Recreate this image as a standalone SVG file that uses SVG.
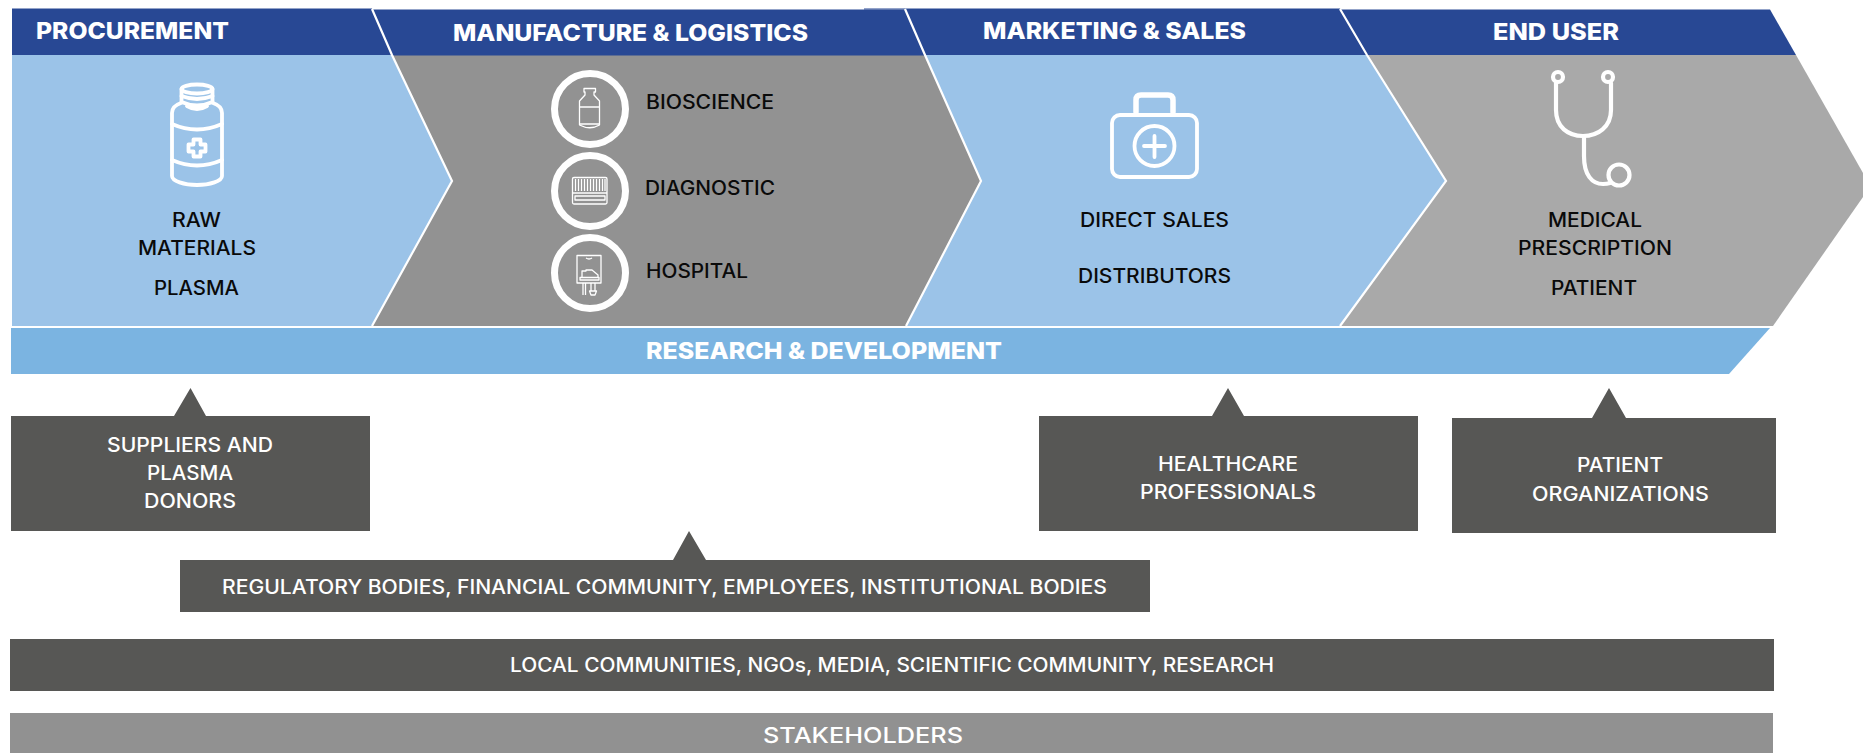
<svg xmlns="http://www.w3.org/2000/svg" width="1863" height="753" viewBox="0 0 1863 753">
<style>
text{font-family:Inter,"Liberation Sans",sans-serif;text-anchor:start}
.h{font-size:22.5px;font-weight:800;fill:#fff}
.b{font-size:19.5px;font-weight:500;fill:#0a0a0a}
.w{font-size:19.5px;font-weight:500;fill:#fff}
.hd{fill:#284894}.lb{fill:#9bc3e8}.g1{fill:#929292}.g2{fill:#a9a9a9}.dk{fill:#575755}
.div{fill:none;stroke:#fff;stroke-width:2.2}
.ic{fill:none;stroke:#fff;stroke-width:3.8;stroke-linecap:round;stroke-linejoin:round}
.ring{fill:none;stroke:#fff;stroke-width:7}
.th{fill:none;stroke:#fff;stroke-width:1.3;stroke-linejoin:round}
</style>
<rect width="1863" height="753" fill="#fff"/>

<g id="end-user">
<polygon class="g2" points="1340,55 1796,55 1863,173 1863,197 1773,326 1340,326"/>
<polygon class="hd" points="1340,9.5 1770,9.5 1796,55 1340,55"/>
<text class="h" x="1493" y="40" textLength="126" lengthAdjust="spacingAndGlyphs">END USER</text>
<g class="ic" style="stroke-width:4.200">
<circle cx="1558" cy="77" r="5"/><circle cx="1608" cy="77" r="5"/>
<path d="M1556 83V110C1556 127 1568 136 1583 136C1598 136 1611 127 1611 110V83"/>
<path d="M1584 137V156C1584 175 1592 184 1603 184C1606 184 1607 184 1610 183"/>
<circle cx="1619" cy="175" r="10.500"/>
</g>
<text class="b" x="1548" y="227" textLength="94" lengthAdjust="spacingAndGlyphs">MEDICAL</text>
<text class="b" x="1518" y="255" textLength="154" lengthAdjust="spacingAndGlyphs">PRESCRIPTION</text>
<text class="b" x="1551" y="295" textLength="86" lengthAdjust="spacingAndGlyphs">PATIENT</text>
</g>

<g id="marketing-sales">
<polygon class="lb" points="905,55 1367,55 1446,181 1340,326 905,326"/>
<polygon class="hd" points="864,8.500 1340,8.500 1367,55 905,55 905,9.500 864,9.500"/>
<polyline class="div" points="1340,9 1367,55 1446,181 1340,326"/>
<g class="ic">
<rect x="1112" y="115" width="85" height="62" rx="8"/>
<path style="stroke-width:5.500" d="M1136 112V100Q1136 95 1141 95H1168Q1173 95 1173 100V112"/>
<circle cx="1154.500" cy="146" r="20"/>
<path d="M1144 146H1165M1154.500 136V157"/>
</g>
<text class="b" x="1080" y="227" textLength="149" lengthAdjust="spacingAndGlyphs">DIRECT SALES</text>
<text class="b" x="1078" y="283" textLength="153" lengthAdjust="spacingAndGlyphs">DISTRIBUTORS</text>
<text class="h" x="983" y="39" textLength="263" lengthAdjust="spacingAndGlyphs">MARKETING &amp; SALES</text>
</g>

<g id="manufacture-logistics">
<polygon class="g1" points="372,55 925,55 981,181 906,326 372,326"/>
<polygon class="hd" points="372,9.500 905,9.500 925,55.500 372,55.500"/>
<polyline class="div" points="905,9 925,55 981,181 906,326"/>
<text class="h" x="453" y="41" textLength="355" lengthAdjust="spacingAndGlyphs">MANUFACTURE &amp; LOGISTICS</text>
<circle class="ring" cx="590" cy="109" r="35.500"/>
<circle class="ring" cx="590" cy="191" r="35.500"/>
<circle class="ring" cx="590" cy="273" r="35.500"/>
<g class="th">
<path d="M584 88.500H595.500V92H594V95L599.500 101V125Q590 130.500 579.500 125V101L585 95V92H584Z"/>
<path d="M579.500 107H599.500M579.500 124H599.500"/>
<rect x="572.500" y="177.500" width="34.500" height="26.500" rx="1.500"/>
<path d="M573 193H607M575 196H605V200H575Z"/>
<path d="M575.500 179V191M578.500 179V191M581.500 179V191M584.500 179V191M587.500 179V191M590.500 179V191M593.500 179V191M596.500 179V191M599.500 179V191M602.500 179V191M605 179V191"/>
<path d="M577 255.500H601V283H577Z"/>
<path d="M586 258Q589 260 592 258"/>
<path d="M580 277.500H599V280H580Z"/>
<path d="M582 277V271H586V270H592L598 275V277"/>
<path d="M583 283V295M585.500 283V295M591 283V291M595 283V291M589.500 291H596.500L595 295H591Z"/>
</g>
<text class="b" x="646" y="109" textLength="128" lengthAdjust="spacingAndGlyphs">BIOSCIENCE</text>
<text class="b" x="645" y="195" textLength="130" lengthAdjust="spacingAndGlyphs">DIAGNOSTIC</text>
<text class="b" x="646" y="278" textLength="102" lengthAdjust="spacingAndGlyphs">HOSPITAL</text>
</g>

<g id="procurement">
<polygon class="lb" points="12,55 392,55 452,181 372,326 12,326"/>
<polygon class="hd" points="12,8.500 372,8.500 392,55 12,55"/>
<polyline class="div" points="372,9 392,55 452,181 372,326"/>
<text class="h" x="36" y="39" textLength="193" lengthAdjust="spacingAndGlyphs">PROCUREMENT</text>
<g class="ic">
<ellipse cx="197" cy="89" rx="15.500" ry="4.500"/>
<path d="M181.500 89V102Q197 109 212.500 102V89"/>
<path d="M181.500 96Q197 102 212.500 96"/>
<path d="M187 106Q197 112 207 106"/>
<path d="M181 103C175 105 172 108 172 113V176C172 181 184 185 197 185C210 185 222 181 222 176V113C222 108 219 105 213 103"/>
<path d="M172 124Q197 135 222 124M172 160Q197 171 222 160"/>
<path d="M193.500 139.500H200.500V144.500H205.500V151.500H200.500V156.500H193.500V151.500H188.500V144.500H193.500Z"/>
</g>
<text class="b" x="172" y="227" textLength="49" lengthAdjust="spacingAndGlyphs">RAW</text>
<text class="b" x="138" y="255" textLength="118" lengthAdjust="spacingAndGlyphs">MATERIALS</text>
<text class="b" x="154" y="295" textLength="85" lengthAdjust="spacingAndGlyphs">PLASMA</text>
</g>

<g id="research-development">
<polygon fill="#7bb4e1" points="11,328 1770,328 1729,374 11,374"/>
<text class="h" x="646" y="359" textLength="356" lengthAdjust="spacingAndGlyphs">RESEARCH &amp; DEVELOPMENT</text>
</g>

<g id="suppliers">
<polygon class="dk" points="11,416 174,416 190.500,388 206,416 370,416 370,531 11,531"/>
<text class="w" x="107" y="452" textLength="166" lengthAdjust="spacingAndGlyphs">SUPPLIERS AND</text>
<text class="w" x="147" y="480" textLength="86" lengthAdjust="spacingAndGlyphs">PLASMA</text>
<text class="w" x="144" y="508" textLength="92" lengthAdjust="spacingAndGlyphs">DONORS</text>
</g>
<g id="healthcare">
<polygon class="dk" points="1039,416 1212,416 1228,388 1244,416 1418,416 1418,531 1039,531"/>
<text class="w" x="1158" y="471" textLength="140" lengthAdjust="spacingAndGlyphs">HEALTHCARE</text>
<text class="w" x="1140" y="499" textLength="176" lengthAdjust="spacingAndGlyphs">PROFESSIONALS</text>
</g>
<g id="patient-organizations">
<polygon class="dk" points="1452,418 1592,418 1609,388 1626,418 1776,418 1776,533 1452,533"/>
<text class="w" x="1577" y="472" textLength="86" lengthAdjust="spacingAndGlyphs">PATIENT</text>
<text class="w" x="1532" y="501" textLength="177" lengthAdjust="spacingAndGlyphs">ORGANIZATIONS</text>
</g>
<g id="regulatory">
<polygon class="dk" points="180,560 673,560 689,531 706,560 1150,560 1150,612 180,612"/>
<text class="w" x="222" y="594" textLength="885" lengthAdjust="spacingAndGlyphs">REGULATORY BODIES, FINANCIAL COMMUNITY, EMPLOYEES, INSTITUTIONAL BODIES</text>
</g>
<g id="local-communities">
<rect class="dk" x="10" y="639" width="1764" height="52"/>
<text class="w" x="510" y="672" textLength="764" lengthAdjust="spacingAndGlyphs">LOCAL COMMUNITIES, NGOs, MEDIA, SCIENTIFIC COMMUNITY, RESEARCH</text>
</g>
<g id="stakeholders">
<rect x="10" y="713" width="1763" height="40" fill="#919191"/>
<text x="763" y="743" font-size="22" font-weight="500" fill="#fff" textLength="200" lengthAdjust="spacingAndGlyphs">STAKEHOLDERS</text>
</g>
</svg>
